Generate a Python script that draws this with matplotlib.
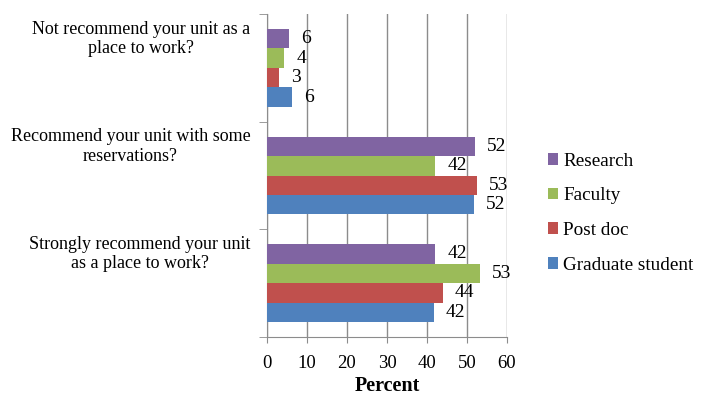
import matplotlib
matplotlib.use("Agg")
import matplotlib.pyplot as plt
import numpy as np

categories = ["Strongly recommend your unit\nas a place to work?",
              "Recommend your unit with some\nreservations?",
              "Not recommend your unit as a\nplace to work?"]
series_names = ["Graduate student", "Post doc", "Faculty", "Research"]
graduate = [41.7, 51.8, 6.2]
postdoc = [44.0, 52.4, 3.1]
faculty = [53.3, 42.1, 4.3]
research = [42.1, 51.9, 5.5]
labels_grad = ["42", "52", "6"]
labels_post = ["44", "53", "3"]
labels_fac = ["53", "42", "4"]
labels_res = ["42", "52", "6"]
colors = ["#4F81BD", "#C0504D", "#9BBB59", "#8064A2"]
xticks = [0, 10, 20, 30, 40, 50, 60]

plt.rcParams['font.family'] = ['Liberation Serif', 'DejaVu Serif']

fig = plt.figure(figsize=(7.02, 3.97), dpi=100)
W, H = 702, 397
ax = fig.add_axes([267/W, 1-337/H, 240/W, 323/H])

values = [graduate, postdoc, faculty, research]
labs = [labels_grad, labels_post, labels_fac, labels_res]
n = len(series_names)
bh = 0.181
y = np.arange(len(categories))
handles = []
for i in range(n):
    pos = y + (i - (n-1)/2) * bh
    b = ax.barh(pos, values[i], height=bh, color=colors[i], edgecolor='none', zorder=3,
                label=series_names[i])
    handles.append(b)
    for p, v, t in zip(pos, values[i], labs[i]):
        ax.annotate(t, (v, p), xytext=(12, 0), textcoords='offset pixels',
                    ha='left', va='center', fontsize=14, color='black')

ax.set_xlim(0, 60)
ax.set_ylim(-0.5, len(categories)-0.5)
ax.set_xticks(xticks)
ax.set_xticklabels([str(t) for t in xticks], fontsize=13.5)
ax.grid(axis='x', color='#8C8C8C', linewidth=1.0, zorder=0)
for s in ['top', 'right']:
    ax.spines[s].set_visible(False)
for s in ['left', 'bottom']:
    ax.spines[s].set_color('#8C8C8C')
ax.tick_params(axis='x', length=4, color='#8C8C8C', pad=9)

# category labels (shifted up like the reference)
ax.set_yticks(y + 0.3)
ax.set_yticklabels(categories, fontsize=13, multialignment='center')
ax.tick_params(axis='y', which='major', length=0, pad=12)
ax.set_yticks(np.arange(-0.5, len(categories)), minor=True)
ax.tick_params(axis='y', which='minor', length=6, color='#8C8C8C', direction='out')

ax.set_xlabel("Percent", fontsize=14.5, fontweight='bold', labelpad=3)

leg = fig.legend(handles[::-1], series_names[::-1], loc='upper left',
                 bbox_to_anchor=(540/W, 1-145/H), frameon=False, fontsize=13.8,
                 handlelength=0.55, handleheight=0.55, handletextpad=0.25,
                 labelspacing=0.92, borderaxespad=0)

fig.savefig("out.png", dpi=100)
